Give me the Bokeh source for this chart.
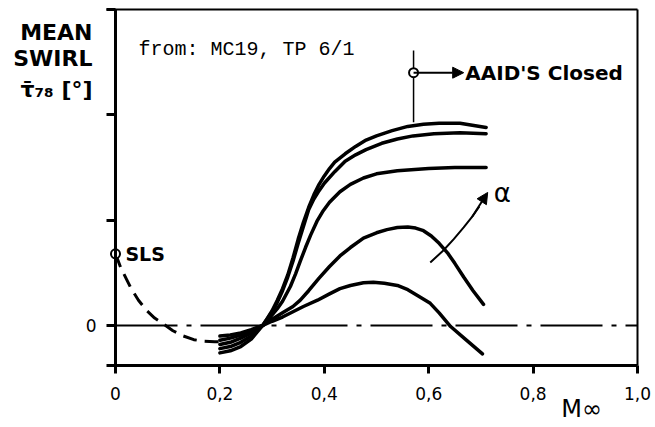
from bokeh.plotting import figure
from bokeh.models import (Range1d, FixedTicker, CustomJSTickFormatter, LinearAxis,
                          Span, Label, Arrow, NormalHead)
from bokeh.embed import file_html
from bokeh.resources import INLINE

# ---------------- data ----------------
# dashed curve from SLS point
m_sls = [0.0, 0.01, 0.02, 0.03, 0.044, 0.06, 0.075, 0.09, 0.11, 0.13, 0.15, 0.17, 0.19, 0.205]
v_sls = [0.68, 0.55, 0.45, 0.35, 0.24, 0.14, 0.07, 0.02, -0.05, -0.10, -0.135, -0.15, -0.155, -0.155]

# swirl curves for increasing alpha (A = AAID'S closed, top)
m_a = [0.20, 0.22, 0.24, 0.26, 0.27, 0.282, 0.29, 0.30, 0.31, 0.32, 0.33, 0.34, 0.35, 0.36, 0.37,
       0.38, 0.39, 0.40, 0.41, 0.42, 0.44, 0.46, 0.48, 0.50, 0.53, 0.56, 0.59, 0.62, 0.66, 0.71]
v_a = [-0.26, -0.24, -0.20, -0.13, -0.07, 0.0, 0.06, 0.14, 0.24, 0.35, 0.48, 0.64, 0.82, 0.98, 1.12,
       1.24, 1.34, 1.42, 1.49, 1.55, 1.63, 1.70, 1.76, 1.80, 1.85, 1.89, 1.91, 1.92, 1.92, 1.88]

m_b = [0.20, 0.22, 0.24, 0.26, 0.27, 0.282, 0.29, 0.30, 0.31, 0.32, 0.33, 0.34, 0.35, 0.36, 0.37,
       0.38, 0.39, 0.40, 0.42, 0.44, 0.46, 0.48, 0.51, 0.54, 0.57, 0.61, 0.66, 0.71]
v_b = [-0.22, -0.20, -0.16, -0.10, -0.05, 0.0, 0.06, 0.13, 0.22, 0.33, 0.46, 0.61, 0.78, 0.94, 1.10,
       1.20, 1.28, 1.35, 1.46, 1.56, 1.62, 1.67, 1.73, 1.77, 1.80, 1.82, 1.83, 1.82]

m_c = [0.20, 0.22, 0.24, 0.26, 0.27, 0.282, 0.29, 0.30, 0.31, 0.32, 0.335, 0.345, 0.354, 0.364, 0.374,
       0.386, 0.398, 0.41, 0.43, 0.45, 0.475, 0.50, 0.54, 0.60, 0.65, 0.71]
v_c = [-0.18, -0.16, -0.12, -0.07, -0.04, 0.0, 0.04, 0.10, 0.16, 0.23, 0.37, 0.49, 0.61, 0.74, 0.86,
       0.99, 1.09, 1.17, 1.27, 1.34, 1.40, 1.44, 1.47, 1.49, 1.50, 1.50]

m_d = [0.20, 0.22, 0.24, 0.26, 0.282, 0.30, 0.32, 0.34, 0.354, 0.37, 0.39, 0.41, 0.43, 0.45, 0.475,
       0.50, 0.52, 0.54, 0.56, 0.575, 0.59, 0.605, 0.62, 0.636, 0.65, 0.667, 0.685, 0.705]
v_d = [-0.14, -0.12, -0.09, -0.05, 0.0, 0.06, 0.12, 0.18, 0.24, 0.33, 0.45, 0.56, 0.66, 0.74, 0.83,
       0.88, 0.91, 0.93, 0.935, 0.925, 0.90, 0.85, 0.78, 0.69, 0.59, 0.46, 0.33, 0.20]

m_e = [0.20, 0.22, 0.24, 0.26, 0.282, 0.30, 0.32, 0.34, 0.36, 0.387, 0.41, 0.43, 0.45, 0.475, 0.494,
       0.515, 0.54, 0.56, 0.58, 0.603, 0.62, 0.642, 0.67, 0.703]
v_e = [-0.10, -0.09, -0.07, -0.04, 0.0, 0.04, 0.08, 0.13, 0.18, 0.24, 0.30, 0.35, 0.38, 0.405, 0.41,
       0.40, 0.38, 0.34, 0.28, 0.21, 0.12, -0.01, -0.13, -0.27]

# zero reference line
m_ref = [0.0, 1.0]
v_ref = [0.0, 0.0]

# AAID'S closed marker
m_aaid = [0.571]
v_aaid = [2.40]
v_aaid_line = [1.93, 2.61]
m_aaid_arrow_end = 0.667

# alpha arrow
m_alpha = [0.603, 0.628, 0.648, 0.667, 0.683, 0.697, 0.713]
v_alpha = [0.598, 0.712, 0.82, 0.931, 1.03, 1.13, 1.263]

x_ticks = [0, 0.2, 0.4, 0.6, 0.8, 1.0]
x_tick_labels = ["0", "0,2", "0,4", "0,6", "0,8", "1,0"]
y_ticks = [0, 1, 2, 3]
y_tick_labels = ["0", "", "", ""]

# axis titles (placed like the original: stacked top-left, and M∞ near the right end)
y_title_pos = [2.78, 2.536, 2.24]
y_title_lines = ["MEAN", "SWIRL", "τ̄₇₈ [°]"]
x_title_pos = [0.893]
x_title_text = ["M∞"]

# ---------------- figure ----------------
p = figure(width=655, height=427, output_backend="svg", toolbar_location=None,
           x_range=Range1d(-9 / 522, 1.0), y_range=Range1d(-0.38, 3.0),
           min_border_left=106, min_border_right=18, min_border_top=9, min_border_bottom=62,
           x_axis_location=None, y_axis_location=None)
p.outline_line_color = None
p.grid.visible = False
p.background_fill_color = "white"
p.border_fill_color = "white"

tick_font = "DejaVu Sans"

fmt_code = """
const i = tvals.findIndex(t => Math.abs(t - tick) < 1e-9);
return i >= 0 ? tlabels[i] : "";
"""


def fmt(vals, labels):
    return CustomJSTickFormatter(args=dict(tvals=vals, tlabels=labels), code=fmt_code)


xaxis = LinearAxis(ticker=FixedTicker(ticks=x_ticks), formatter=fmt(x_ticks, x_tick_labels),
                   axis_line_width=3, axis_line_color="black",
                   major_tick_out=8, major_tick_in=0, major_tick_line_width=3,
                   minor_tick_out=0, minor_tick_in=0,
                   major_label_text_font=tick_font, major_label_text_font_size="17px",
                   major_label_text_color="black", major_label_standoff=13)
p.add_layout(xaxis, "below")

x_title_axis = LinearAxis(ticker=FixedTicker(ticks=x_title_pos), formatter=fmt(x_title_pos, x_title_text),
                          axis_line_color=None, major_tick_line_color=None,
                          major_tick_out=0, major_tick_in=0, minor_tick_out=0, minor_tick_in=0,
                          major_label_text_font=tick_font, major_label_text_font_size="24px",
                          major_label_text_color="black", major_label_standoff=-8)
p.add_layout(x_title_axis, "below")

yaxis = LinearAxis(ticker=FixedTicker(ticks=y_ticks), formatter=fmt(y_ticks, y_tick_labels),
                   axis_line_color=None,
                   major_tick_out=0, major_tick_in=9, major_tick_line_width=3,
                   minor_tick_out=0, minor_tick_in=0,
                   major_label_text_font=tick_font, major_label_text_font_size="17px",
                   major_label_text_color="black", major_label_standoff=10)
p.add_layout(yaxis, "left")

y_title_axis = LinearAxis(ticker=FixedTicker(ticks=y_title_pos), formatter=fmt(y_title_pos, y_title_lines),
                          axis_line_color=None, major_tick_line_color=None,
                          major_tick_out=0, major_tick_in=0, minor_tick_out=0, minor_tick_in=0,
                          major_label_text_font=tick_font, major_label_text_font_size="22px",
                          major_label_text_font_style="bold",
                          major_label_text_color="black", major_label_standoff=-10)
p.add_layout(y_title_axis, "left")

top_axis = LinearAxis(ticker=FixedTicker(ticks=[]), axis_line_width=2, axis_line_color="black",
                      major_tick_out=0, major_tick_in=0, minor_tick_out=0, minor_tick_in=0,
                      major_label_standoff=0, major_label_text_font_size="0px")
p.add_layout(top_axis, "above")
right_axis = LinearAxis(ticker=FixedTicker(ticks=[]), axis_line_width=2, axis_line_color="black",
                        major_tick_out=0, major_tick_in=0, minor_tick_out=0, minor_tick_in=0,
                        major_label_standoff=0, major_label_text_font_size="0px")
p.add_layout(right_axis, "right")

# visible y axis line at M = 0
p.add_layout(Span(location=0, dimension="height", line_color="black", line_width=3))

# zero dash-dot line
p.line(m_ref, v_ref, line_color="black", line_width=2, line_dash="62 9 5 9")

# dashed SLS curve
p.line(m_sls, v_sls, line_color="black", line_width=3, line_dash="14 8")

# curves
for mm, vv in [(m_a, v_a), (m_b, v_b), (m_c, v_c), (m_d, v_d), (m_e, v_e)]:
    p.line(mm, vv, line_color="black", line_width=3.5, line_cap="round", line_join="round")

# AAID marker
p.line([m_aaid[0], m_aaid[0]], v_aaid_line, line_color="black", line_width=1.5)
p.add_layout(Arrow(start=None, end=NormalHead(size=11, fill_color="black", line_color="black"),
                   x_start=m_aaid[0], y_start=v_aaid[0], x_end=m_aaid_arrow_end, y_end=v_aaid[0],
                   line_color="black", line_width=2))
p.scatter(m_aaid, v_aaid, marker="circle", size=9, fill_color="white", line_color="black", line_width=2)

# SLS marker
p.scatter([m_sls[0]], [v_sls[0]], marker="circle", size=9, fill_color="white",
          line_color="black", line_width=2)

# alpha arrow
p.line(m_alpha[:-1], v_alpha[:-1], line_color="black", line_width=2)
p.add_layout(Arrow(start=None, end=NormalHead(size=11, fill_color="black", line_color="black"),
                   x_start=m_alpha[-3], y_start=v_alpha[-3], x_end=m_alpha[-1], y_end=v_alpha[-1],
                   line_color="black", line_width=2))

# ---------------- texts inside the frame ----------------
bold = "DejaVu Sans"


def lab(x, y, text, size, font=bold, style="bold", align="left", baseline="middle"):
    p.add_layout(Label(x=x, y=y, text=text, text_font=font, text_font_size=size,
                       text_font_style=style, text_color="black",
                       text_align=align, text_baseline=baseline))


lab(0.044, 2.62, "from: MC19, TP 6/1", "20px", font="Liberation Mono", style="normal")
lab(0.019, 0.68, "SLS", "19px")
lab(0.670, 2.40, "AAID'S Closed", "20px")
lab(0.741, 1.26, "α", "26px", style="normal", align="center")

open("out.html", "w").write(file_html(p, INLINE))
